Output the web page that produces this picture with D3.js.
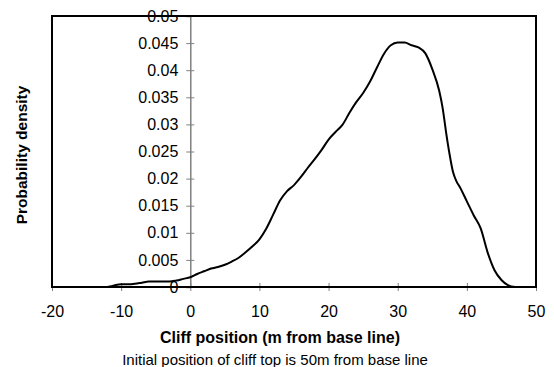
<!DOCTYPE html>
<html>
<head>
<meta charset="utf-8">
<script src="https://cdn.jsdelivr.net/npm/d3@7"></script>
<style>
  body { margin: 0; background: #fff; }
  text { font-family: "Liberation Sans", Arial, sans-serif; }
</style>
</head>
<body>
<div id="chart"></div>
<script>
// cliff position (m) and probability density
const positions = [-12, -11, -10, -9, -8, -7, -6, -5, -4, -3, -2, -1, 0, 1, 2, 3, 4, 5, 6, 7, 8, 9, 10,
  11, 12, 13, 14, 15, 16, 17, 18, 19, 20, 21, 22, 23, 24, 25, 26, 27, 28, 29, 30, 31, 32, 33, 34, 35,
  36, 36.5, 37, 37.5, 38, 38.5, 39, 40, 41, 42, 43, 44, 45, 46, 47];
const density = [0, 0.0003, 0.0005, 0.0005, 0.0006, 0.0008, 0.0010, 0.0010, 0.0010, 0.0010, 0.0012, 0.0015, 0.0018,
  0.0024, 0.0029, 0.0034, 0.0037, 0.0041, 0.0047, 0.0054, 0.0064, 0.0075, 0.0088,
  0.0108, 0.0134, 0.0160, 0.0177, 0.0188, 0.0203, 0.0220, 0.0236, 0.0253, 0.0272, 0.0286, 0.0299, 0.0321, 0.0341, 0.0358,
  0.0379, 0.0405, 0.0430, 0.0446, 0.0451, 0.0451, 0.0446, 0.0442, 0.0431, 0.0402,
  0.0362, 0.0330, 0.0285, 0.0245, 0.0212, 0.0195, 0.0184, 0.0158, 0.0132, 0.0108, 0.0064, 0.0031, 0.0013, 0.0003, 0];
const xTicks = [-20, -10, 0, 10, 20, 30, 40, 50];
const yTicks = [0, 0.005, 0.01, 0.015, 0.02, 0.025, 0.03, 0.035, 0.04, 0.045, 0.05];

const margin = {top: 16, right: 18, bottom: 80, left: 52},
  width = 554 - margin.left - margin.right,
  height = 367 - margin.top - margin.bottom;

const svg = d3.select("#chart")
  .append("svg")
  .attr("width", 554)
  .attr("height", 367)
  .append("g")
  .attr("transform", `translate(${margin.left},${margin.top})`);

const x = d3.scaleLinear().domain([-20, 50]).range([0, width]);
const y = d3.scaleLinear().domain([0, 0.05]).range([height, 0]);

// y axis sits at x = 0
const yAxis = svg.append("g")
  .attr("transform", `translate(${x(0)},0)`)
  .call(d3.axisLeft(y).tickValues(yTicks).tickFormat(d => String(+d.toFixed(3))).tickSize(4).tickPadding(8));
yAxis.select(".domain").attr("stroke", "#808080").attr("stroke-width", 1.5);
yAxis.selectAll(".tick line").attr("x1", -4).attr("x2", 4).attr("stroke", "#808080");
yAxis.selectAll(".tick text").attr("font-size", 16).attr("fill", "#000");

const xAxis = svg.append("g")
  .attr("transform", `translate(0,${height})`)
  .call(d3.axisBottom(x).tickValues(xTicks).tickFormat(d => String(d)).tickSize(4).tickPadding(15));
xAxis.select(".domain").remove();
xAxis.selectAll(".tick line").attr("y1", -4).attr("y2", 4).attr("stroke", "#808080");
xAxis.selectAll(".tick text").attr("font-size", 16).attr("fill", "#000");

// plot frame
svg.append("rect")
  .attr("width", width)
  .attr("height", height)
  .attr("fill", "none")
  .attr("stroke", "#000")
  .attr("stroke-width", 2);

const line = d3.line()
  .x((d, i) => x(positions[i]))
  .y(d => y(d))
  .curve(d3.curveMonotoneX);

svg.append("path")
  .datum(density)
  .attr("fill", "none")
  .attr("stroke", "#000")
  .attr("stroke-width", 2)
  .attr("d", line);

// titles
svg.append("text")
  .attr("x", 228)
  .attr("y", 327)
  .attr("text-anchor", "middle")
  .attr("font-size", 16)
  .attr("font-weight", "bold")
  .text("Cliff position (m from base line)");

svg.append("text")
  .attr("x", 223)
  .attr("y", 349)
  .attr("text-anchor", "middle")
  .attr("font-size", 15)
  .text("Initial position of cliff top is 50m from base line");

svg.append("text")
  .attr("transform", `translate(-25,${155 - margin.top}) rotate(-90)`)
  .attr("text-anchor", "middle")
  .attr("font-size", 15.5)
  .attr("font-weight", "bold")
  .text("Probability density");
</script>
</body>
</html>
